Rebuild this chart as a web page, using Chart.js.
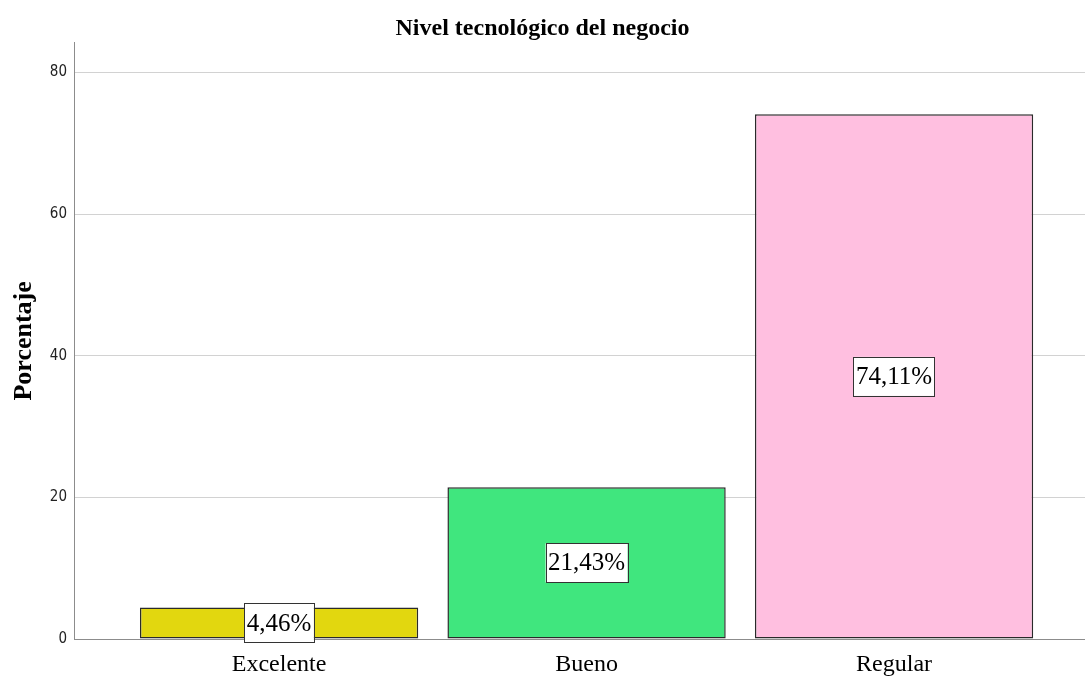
<!DOCTYPE html>
<html>
<head>
<meta charset="utf-8">
<script src="https://cdn.jsdelivr.net/npm/chart.js@4.4.1/dist/chart.umd.min.js"></script>
<style>
  html, body { margin: 0; padding: 0; background: #fff; }
  #wrap { width: 1085px; height: 677px; }
</style>
</head>
<body>
<div id="wrap"><canvas id="nivelChart" width="1085" height="677"></canvas></div>
<script>
// --- data ---
const categories = ['Excelente', 'Bueno', 'Regular'];
const porcentajes = [4.46, 21.43, 74.11];
const barColors = ['#e2d70f', '#40e67e', '#ffbfe0'];
const yTicks = [0, 20, 40, 60, 80];

// white boxed value label in the middle of each bar
const boxLabels = {
    id: 'boxLabels',
    afterDatasetsDraw(chart) {
        const ctx = chart.ctx;
        const meta = chart.getDatasetMeta(0);
        ctx.save();
        ctx.font = '25px "Liberation Serif", "Times New Roman", serif';
        ctx.textAlign = 'center';
        ctx.textBaseline = 'middle';
        meta.data.forEach((bar, i) => {
            const txt = porcentajes[i].toFixed(2).replace('.', ',') + '%';
            const w = ctx.measureText(txt).width + 5;
            const h = 39;
            const cx = bar.x;
            const cy = (bar.y + bar.base) / 2;
            ctx.fillStyle = '#ffffff';
            ctx.fillRect(cx - w / 2, cy - h / 2, w, h);
            ctx.strokeStyle = '#333';
            ctx.lineWidth = 1;
            ctx.strokeRect(Math.round(cx - w / 2) + 0.5, Math.round(cy - h / 2) + 0.5, Math.round(w), h);
            ctx.fillStyle = '#000';
            ctx.fillText(txt, cx, cy + 1);
        });
        ctx.restore();
    }
};

const ctx = document.getElementById('nivelChart').getContext('2d');
const nivelChart = new Chart(ctx, {
    type: 'bar',
    data: {
        datasets: [{
            label: 'Porcentaje',
            data: porcentajes.map((v, i) => ({ x: i, y: v })),
            backgroundColor: barColors,
            borderColor: '#2a2a2a',
            borderWidth: 1.5,
            borderSkipped: false,
            categoryPercentage: 0.905,
            barPercentage: 1.0
        }]
    },
    options: {
        responsive: false,
        animation: false,
        devicePixelRatio: 1,
        layout: { padding: { left: 0, right: 0, top: 0, bottom: 0 } },
        plugins: {
            legend: { display: false },
            tooltip: { enabled: false },
            title: {
                display: true,
                text: 'Nivel tecnológico del negocio',
                color: '#000',
                font: { family: '"Liberation Serif", "Times New Roman", serif', size: 24, weight: 'bold' },
                padding: { top: 14, bottom: 0 }
            }
        },
        scales: {
            x: {
                type: 'linear',
                offset: false,
                min: -0.667,
                max: 2.621,
                afterBuildTicks: (scale) => {
                    scale.ticks = categories.map((c, i) => ({ value: i }));
                },
                afterFit: (scale) => { scale.height = 38; },
                grid: { display: false, drawTicks: false, offset: false },
                border: { display: true, color: '#8c8c8c', width: 1 },
                ticks: {
                    color: '#000',
                    padding: 11,
                    maxRotation: 0,
                    font: { family: '"Liberation Serif", "Times New Roman", serif', size: 24 },
                    callback: (v) => categories[v]
                }
            },
            y: {
                min: 0,
                max: 84.2,
                afterBuildTicks: (scale) => {
                    scale.ticks = yTicks.map(v => ({ value: v }));
                },
                afterFit: (scale) => { scale.width = 74; },
                grid: { color: '#d2d2d2', drawTicks: false, lineWidth: 1 },
                border: { display: true, color: '#8c8c8c', width: 1 },
                ticks: {
                    color: '#222',
                    padding: 7,
                    font: { family: '"Liberation Sans Narrow", "DejaVu Sans Condensed", "Liberation Sans", sans-serif', size: 15 }
                },
                title: {
                    display: true,
                    text: 'Porcentaje',
                    color: '#000',
                    padding: { top: 9, bottom: 0 },
                    font: { family: '"Liberation Serif", "Times New Roman", serif', size: 26, weight: 'bold' }
                }
            }
        }
    },
    plugins: [boxLabels]
});
</script>
</body>
</html>
